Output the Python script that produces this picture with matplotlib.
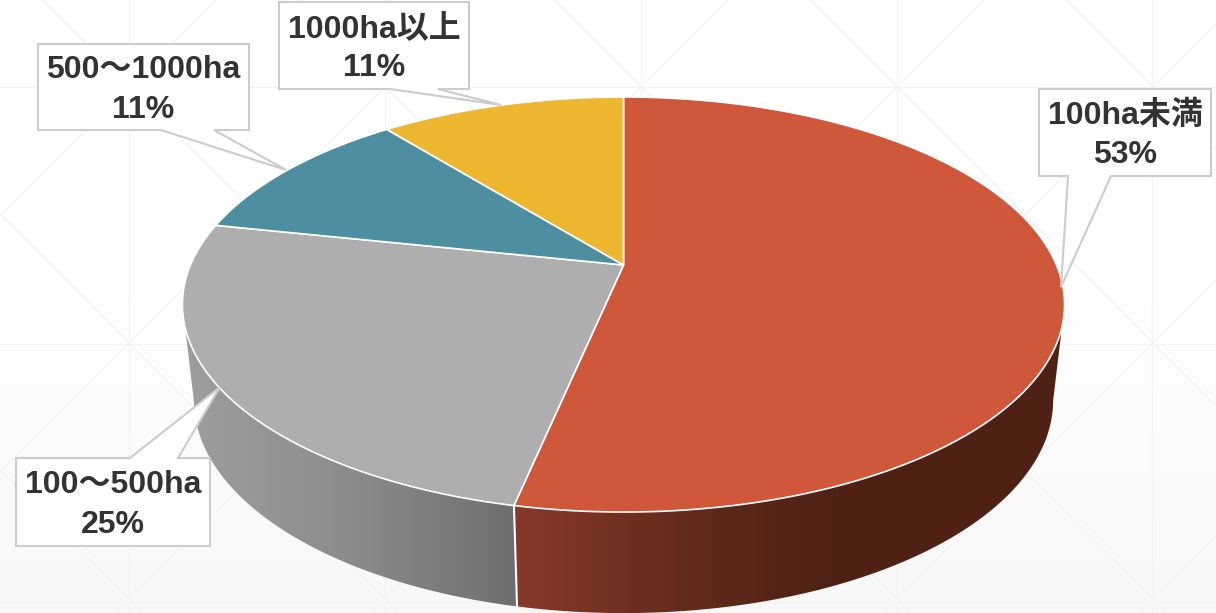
import numpy as np
import matplotlib
matplotlib.use("Agg")
import matplotlib.pyplot as plt
from matplotlib.colors import LinearSegmentedColormap
from matplotlib.patches import Polygon

plt.rcParams['font.family'] = ['Liberation Sans', 'Noto Sans CJK JP', 'DejaVu Sans']

# data, clockwise from 12 o'clock
names = ["100ha未満", "100～500ha", "500～1000ha", "1000ha以上"]
shares = [53.3, 25.0, 10.9, 10.8]
colors = ["#CF583B", "#AEAEAE", "#4D8FA1", "#EDB730"]

# perspective discs: centre x, centre y, c, A, B
top_disc = (623.5, 265, 0.1904, 433, 200)
low_disc = (623.5, 360, 0.188, 422, 205.5)

def rim(disc, start, stop, n=300):
    cx, cy, c, A, B = disc
    t = np.radians(np.linspace(start, stop, n))
    u = np.sin(t)
    v = np.cos(t)
    return cx + A * u / (1 + c * v), cy - B * v / (1 + c * v)

def wall_points(start, stop):
    x1, y1 = rim(top_disc, start, stop)
    x2, y2 = rim(low_disc, stop, start)
    return np.column_stack([np.r_[x1, x2], np.r_[y1, y2]])

fig = plt.figure(figsize=(12.16, 6.13), dpi=100)
ax = fig.add_axes([0, 0, 1, 1])
ax.axis('off')

# background: soft gradient and faint lattice
bg = np.ones((613, 1, 3))
fade = np.clip((np.arange(613) - 300) / 313, 0, 1) * 0.028
bg[:, 0, :] = (1 - fade)[:, None]
ax.imshow(bg, extent=(0, 1216, 613, 0), aspect='auto', zorder=0)

line_c = "#f3f3f3"
for gx in [129, 385, 641, 897, 1152]:
    ax.plot([gx, gx], [0, 613], color=line_c, lw=0.9, zorder=1)
for gy in [87, 344, 602]:
    ax.plot([0, 1216], [gy, gy], color=line_c, lw=0.9, zorder=1)
for off in range(-3, 8):
    d = 129 + 256 * off - 87
    ax.plot([0, 1216], [-d, 1216 - d], color=line_c, lw=0.9, zorder=1)
    s = 129 + 256 * off + 87
    ax.plot([0, 1216], [s, s - 1216], color=line_c, lw=0.9, zorder=1)

# slice angles
edges = np.r_[0, np.cumsum(shares)] / sum(shares) * 360
left_limit = 360 - np.degrees(np.arccos(-top_disc[2]))
right_limit = np.degrees(np.arccos(-top_disc[2]))

# side walls with horizontal gradient
walls = [
    (right_limit, edges[1], [(0, "#4f2115"), (0.42, "#4f2115"), (0.62, "#5d2819"), (1, "#87392a")]),
    (edges[1], left_limit, [(0, "#9e9e9e"), (0.5, "#8c8c8c"), (1, "#6e6e6e")]),
]
for start, stop, stops in walls:
    pts = wall_points(start, stop)
    xmin, xmax = pts[:, 0].min(), pts[:, 0].max()
    cmap = LinearSegmentedColormap.from_list("wall", stops)
    if start == right_limit:
        grad = np.linspace(1, 0, 256)[None, :]
    else:
        grad = np.linspace(0, 1, 256)[None, :]
    im = ax.imshow(grad, cmap=cmap, vmin=0, vmax=1, extent=(xmin, xmax, 613, 0), aspect='auto', zorder=2)
    patch = Polygon(pts, closed=True, transform=ax.transData, fc='none', ec='none')
    ax.add_patch(patch)
    im.set_clip_path(patch)

# white seam between the two walls
sx1, sy1 = rim(top_disc, edges[1], edges[1], 2)
sx2, sy2 = rim(low_disc, edges[1], edges[1], 2)
ax.plot([sx1[0], sx2[0]], [sy1[0], sy2[0]], color="white", lw=1.5, zorder=3)

# top faces
cx, cy = top_disc[0], top_disc[1]
for i in range(len(shares)):
    x, y = rim(top_disc, edges[i], edges[i + 1])
    pts = np.column_stack([np.r_[cx, x], np.r_[cy, y]])
    ax.add_patch(Polygon(pts, closed=True, fc=colors[i], ec="white", lw=1.2, joinstyle='round', zorder=4))

# callouts: box (left, top, right, bottom), pointer base x0, x1 and tip
callouts = [
    ((1039, 89, 1211, 176), 1068, 1111, (1061, 287)),
    ((16, 458, 210, 546), 130, 178, (220, 387)),
    ((38, 44, 249, 130), 161, 214, (286, 170)),
    ((279, 2, 469, 89), 390, 438, (501, 105)),
]
for i, (box, b0, b1, tip) in enumerate(callouts):
    l, t, r, b = box
    if tip[1] < t:
        pts = [(l, t), (b0, t), tip, (b1, t), (r, t), (r, b), (l, b)]
    else:
        pts = [(l, t), (r, t), (r, b), (b1, b), tip, (b0, b), (l, b)]
    ax.add_patch(Polygon(pts, closed=True, fc="white", ec="#cccccc", lw=1.5, joinstyle='miter', zorder=5))
    label = names[i] + "\n" + str(round(shares[i])) + "%"
    ax.text((l + r) / 2, (t + b) / 2 + 3, label, ha='center', va='center', fontsize=23,
            fontweight='bold', color="#333333", linespacing=1.42, zorder=6)

ax.set_xlim(0, 1216)
ax.set_ylim(613, 0)
fig.savefig("out.png", dpi=100)
